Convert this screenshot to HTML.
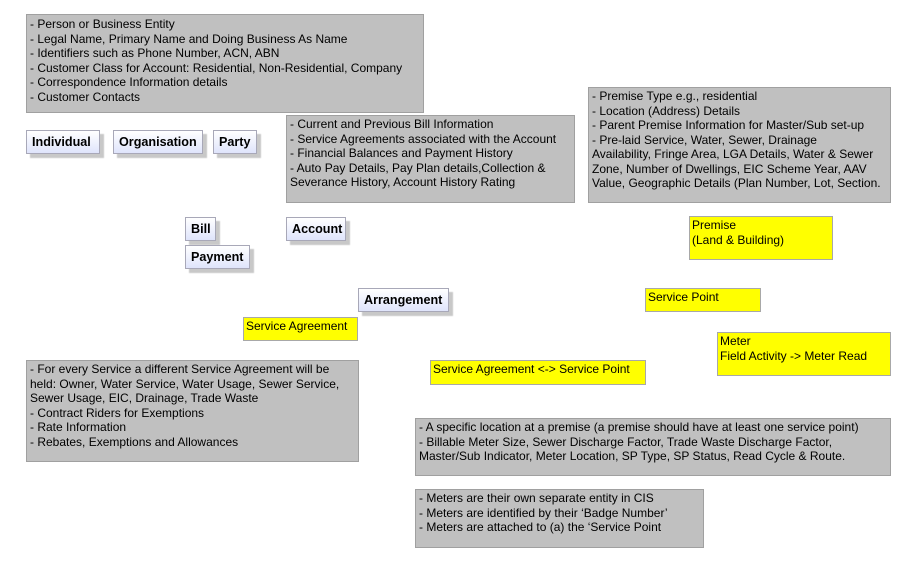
<!DOCTYPE html>
<html><head><meta charset="utf-8"><style>
body{margin:0;width:902px;height:564px;background:#fff;position:relative;overflow:hidden;font-family:"Liberation Sans",sans-serif;}
.g{position:absolute;background:#c0c0c0;border:1px solid #a0a0a0;box-sizing:border-box;font-size:12px;line-height:14.5px;padding:1px 3px;color:#000;white-space:nowrap;}
.y{position:absolute;background:#ffff00;border:1px solid #a8a8a8;box-sizing:border-box;font-size:12px;line-height:14.5px;padding:1px 2px;color:#000;white-space:nowrap;}
.b{position:absolute;box-sizing:border-box;border:1px solid #a8a8b8;background:linear-gradient(#ffffff,#dfe4fb);font-weight:bold;font-size:12.6px;line-height:22px;padding:0 5px;box-shadow:4px 4px 1px #c8c8c8;white-space:nowrap;}
</style></head><body>
<div class="g" style="left:26px;top:14px;width:398px;height:99px;padding-top:2px">- Person or Business Entity<br>- Legal Name, Primary Name and Doing Business As Name<br>- Identifiers such as Phone Number, ACN, ABN<br>- Customer Class for Account: Residential, Non-Residential, Company<br>- Correspondence Information details<br>- Customer Contacts</div>
<div class="g" style="left:286px;top:115px;width:289px;height:88px">- Current and Previous Bill Information<br>- Service Agreements associated with the Account<br>- Financial Balances and Payment History<br>- Auto Pay Details, Pay Plan details,Collection &amp;<br>Severance History, Account History Rating</div>
<div class="g" style="left:588px;top:87px;width:303px;height:116px">- Premise Type e.g., residential<br>- Location (Address) Details<br>- Parent Premise Information for Master/Sub set-up<br>- Pre-laid Service, Water, Sewer, Drainage<br>Availability, Fringe Area, LGA Details, Water &amp; Sewer<br>Zone, Number of Dwellings, EIC Scheme Year, AAV<br>Value, Geographic Details (Plan Number, Lot, Section.</div>
<div class="g" style="left:26px;top:360px;width:333px;height:102px">- For every Service a different Service Agreement will be<br>held: Owner, Water Service, Water Usage, Sewer Service,<br>Sewer Usage, EIC, Drainage, Trade Waste<br>- Contract Riders for Exemptions<br>- Rate Information<br>- Rebates, Exemptions and Allowances</div>
<div class="g" style="left:415px;top:418px;width:476px;height:58px">- A specific location at a premise (a premise should have at least one service point)<br>- Billable Meter Size, Sewer Discharge Factor, Trade Waste Discharge Factor,<br>Master/Sub Indicator, Meter Location, SP Type, SP Status, Read Cycle &amp; Route.</div>
<div class="g" style="left:415px;top:489px;width:289px;height:59px">- Meters are their own separate entity in CIS<br>- Meters are identified by their ‘Badge Number’<br>- Meters are attached to (a) the ‘Service Point</div>
<div class="b" style="left:26px;top:130px;width:74px;height:24px">Individual</div>
<div class="b" style="left:113px;top:130px;width:90px;height:24px">Organisation</div>
<div class="b" style="left:213px;top:130px;width:44px;height:24px">Party</div>
<div class="b" style="left:185px;top:217px;width:31px;height:24px">Bill</div>
<div class="b" style="left:185px;top:245px;width:65px;height:24px">Payment</div>
<div class="b" style="left:286px;top:217px;width:60px;height:24px">Account</div>
<div class="b" style="left:358px;top:288px;width:91px;height:24px">Arrangement</div>
<div class="y" style="left:243px;top:317px;width:115px;height:24px">Service Agreement</div>
<div class="y" style="left:689px;top:216px;width:144px;height:44px">Premise<br>(Land &amp; Building)</div>
<div class="y" style="left:645px;top:288px;width:116px;height:24px">Service Point</div>
<div class="y" style="left:717px;top:332px;width:174px;height:44px">Meter<br>Field Activity -&gt; Meter Read</div>
<div class="y" style="left:430px;top:360px;width:216px;height:25px">Service Agreement &lt;-&gt; Service Point</div>
</body></html>
